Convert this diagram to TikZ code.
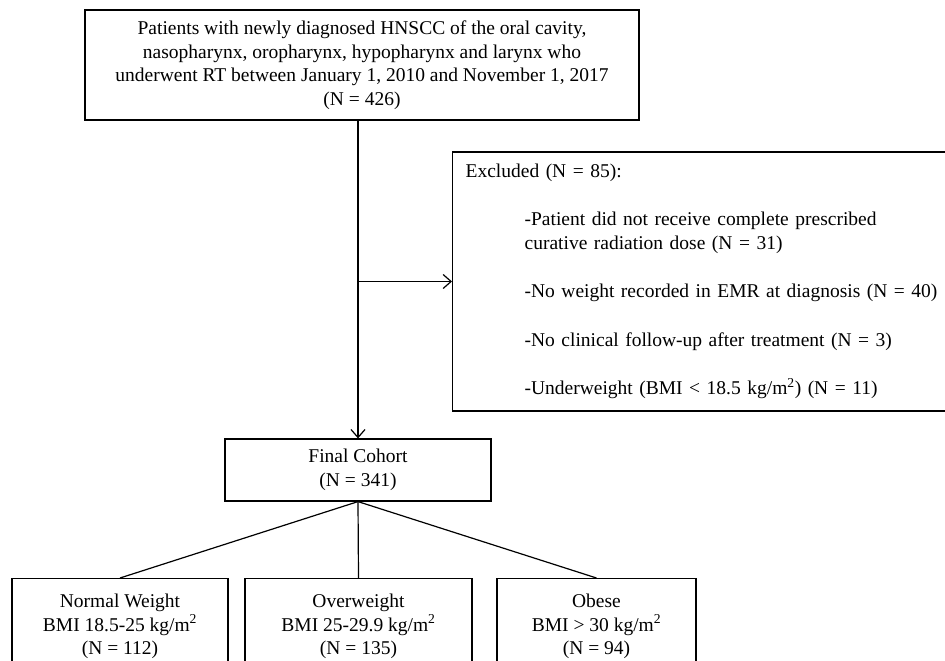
\documentclass[tikz,border=0pt]{standalone}
\usepackage{fontspec}
\setmainfont{Liberation Serif}
\usetikzlibrary{arrows.meta,positioning}

\begin{document}
\begin{tikzpicture}[x=1pt, y=-1pt, line width=1.2pt,
    every node/.style={font=\fontsize{19.5}{23.5}\selectfont},
    box/.style={draw, align=center, inner sep=0pt},
    >={Straight Barb[length=8pt,width=14pt]}]
  \useasboundingbox (0,0) rectangle (945,661);
  \node[box, minimum width=554pt, minimum height=110pt] (patients) at (362,65)
    {Patients with newly diagnosed HNSCC of the oral cavity,\\
     nasopharynx, oropharynx, hypopharynx and larynx who\\
     underwent RT between January 1, 2010 and November 1, 2017\\
     (N = 426)};
  \node[draw, anchor=west, align=left, text width=520pt, minimum height=259pt,
        inner xsep=13pt, inner ysep=0pt] (excluded) at (452,281.5)
    {Excluded (N = 85):\\[25pt]
     \hspace*{59pt}-Patient did not receive complete prescribed\\
     \hspace*{59pt}curative radiation dose (N = 31)\\[25pt]
     \hspace*{59pt}-No weight recorded in EMR at diagnosis (N = 40)\\[25pt]
     \hspace*{59pt}-No clinical follow-up after treatment (N = 3)\\[25pt]
     \hspace*{59pt}-Underweight (BMI < 18.5 kg/m\textsuperscript{2}) (N = 11)};
  \node[box, minimum width=266pt, minimum height=62pt] (cohort) at (358,470)
    {Final Cohort\\(N = 341)};
  \node[box, anchor=north, minimum width=216pt, minimum height=96pt] (normal) at (120,578)
    {Normal Weight\\BMI 18.5-25 kg/m\textsuperscript{2}\\(N = 112)};
  \node[box, anchor=north, minimum width=227pt, minimum height=96pt] (over) at (358.5,578)
    {Overweight\\BMI 25-29.9 kg/m\textsuperscript{2}\\(N = 135)};
  \node[box, anchor=north, minimum width=199pt, minimum height=96pt] (obese) at (596.5,578)
    {Obese\\BMI > 30 kg/m\textsuperscript{2}\\(N = 94)};
  \path[->] (cohort.north |- patients.south) edge (cohort.north);
  \path[->] (cohort.north |- excluded.west) edge (excluded.west);
  \path (cohort.south) edge (normal.north) edge (over.north) edge (obese.north);
\end{tikzpicture}
\end{document}
